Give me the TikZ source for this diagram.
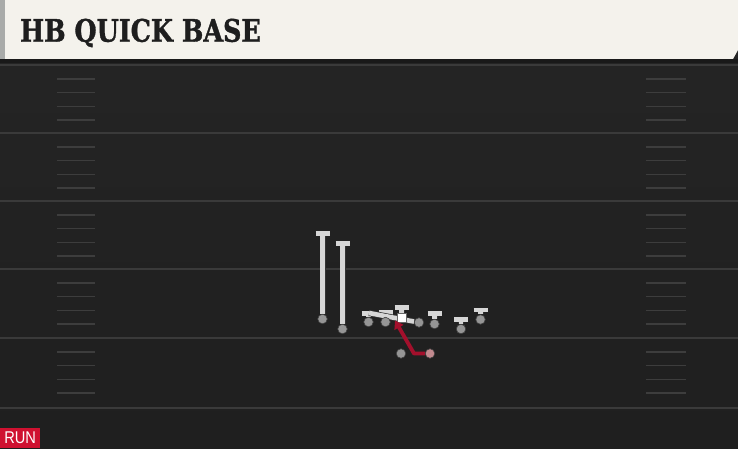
\documentclass[tikz,border=0pt]{standalone}
\usepackage{fontspec}
\newfontfamily\playtitlefont[FakeBold=1.2]{DejaVu Serif Bold}
\newfontfamily\playtagfont{Liberation Sans}
\usepackage{tikz}
\usetikzlibrary{positioning}
\usetikzlibrary{arrows.meta}
\pgfdeclarelayer{playfieldbg}
\pgfdeclarelayer{playroutesbg}
\pgfsetlayers{playfieldbg,playroutesbg,main}
\definecolor{fieldgrey}{HTML}{252525}
\definecolor{fielddark}{HTML}{1F1F1F}
\definecolor{yardgrey}{HTML}{3A3A3A}
\definecolor{hashgrey}{HTML}{3D3D3D}
\definecolor{headcream}{HTML}{F4F2EC}
\definecolor{stripgrey}{HTML}{A9ABA9}
\definecolor{routegrey}{HTML}{D6D6D6}
\definecolor{dotgrey}{HTML}{959595}
\definecolor{runred}{HTML}{A3102C}
\definecolor{tagred}{HTML}{CF1130}
\definecolor{rbpink}{HTML}{C28A8F}
\definecolor{titleink}{HTML}{1E1E1E}

\begin{document}
\begin{tikzpicture}[x=1pt,y=-1pt,
	playerdot/.style={circle, fill=dotgrey, draw=black!75, line width=0.6pt, inner sep=0pt, minimum size=9.5pt},
	route/.style={draw=routegrey, line width=4.6pt, preaction={draw=black!80, line width=6pt}},
	blockbar/.style={-{Bar[width=14pt, line width=4.6pt]}},
	runpath/.style={draw=runred, line width=3.8pt, line join=round, -{Triangle[width=10pt, length=8pt]}},
	yardline/.style={draw=yardgrey, line width=2pt},
	hashline/.style={draw=hashgrey, line width=1.6pt}]
	\useasboundingbox (0,0) rectangle (738,448);
	\begin{pgfonlayer}{playfieldbg}
	\fill[top color=fieldgrey, bottom color=fielddark] (0,0) rectangle (738,448);
	\foreach \ylev in {65,133,201,269,338,408} {\draw[yardline] (0,\ylev) -- (738,\ylev);}
	\foreach \ylev in {65,133,201,269,338} {\foreach \k in {1,...,4} {\draw[hashline] (57,\ylev+13.8*\k) -- (95,\ylev+13.8*\k); \draw[hashline] (646,\ylev+13.8*\k) -- (686,\ylev+13.8*\k);}}
	\fill[headcream] (5,0) -- (738,0) -- (738,50) -- (733,59) -- (5,59) -- cycle; \fill[stripgrey] (0,0) rectangle (5,59); \fill[black!90] (0,59) rectangle (738,63);
	\end{pgfonlayer}
	\node [anchor=west, text=titleink, font=\playtitlefont\fontsize{31}{31}\selectfont, xscale=0.82, transform shape, inner sep=0pt] at (20,33) (playname) {HB QUICK BASE};
	\node [anchor=south west, fill=tagred, minimum width=40pt, minimum height=20pt, inner sep=0pt] at (0,448) (playtype) {};
	\node [text=white, font=\playtagfont\fontsize{17}{17}\selectfont, xscale=0.86, transform shape, inner sep=0pt] at (playtype.center) (playtypetext) {RUN};
	
	% receivers and line
	\node [playerdot] at (322.5,319) (wrL) {}; \node [playerdot] at (342.5,329) (slotL) {};
	\node [playerdot] at (368.5,322) (lt) {}; \node [playerdot] at (385.5,322) (lg) {};
	\node [fill=white, draw=black!60, line width=0.6pt, minimum size=9pt, inner sep=0pt] at (401.5,318) (ctr) {};
	\node [playerdot] at (419,322.5) (rg) {}; \node [playerdot] at (434.5,324) (rt) {};
	\node [playerdot] at (461,329) (te) {}; \node [playerdot] at (480.5,319.5) (wrR) {};
	\node [playerdot] at (401,353.5) (qb) {}; \node [playerdot, fill=rbpink] at (430,353.5) (hb) {};
	
	\coordinate (wrLend) at (322.5,231); \coordinate (slotLend) at (342.5,241); \coordinate (ltend) at (368.5,311); \coordinate (lgend) at (385.5,310);
	\coordinate (ctrend) at (401.5,305); \coordinate (rtend) at (434.5,311); \coordinate (teend) at (461,317); \coordinate (wrRend) at (480.5,307.5);
	\coordinate (ltpull) at (369,313); \coordinate (hbcut) at (414,353.5); \coordinate (handoff) at (395,320.5);
	
	\begin{pgfonlayer}{playroutesbg}
	\draw[route, blockbar] (wrL) -- (wrLend); \draw[route, blockbar] (slotL) -- (slotLend);
	\draw[route, blockbar] (lt) -- (ltend); \draw[route, blockbar] (lg) -- (lgend); \draw[route, blockbar] (ctr) -- (ctrend);
	\draw[route, blockbar] (rt) -- (rtend); \draw[route, blockbar] (te) -- (teend); \draw[route, blockbar] (wrR) -- (wrRend);
	\draw[route] (ltpull) -- (rg);
	\end{pgfonlayer}
	\draw[runpath] (hb) -- (hbcut) -- (handoff);
	
\end{tikzpicture}
\end{document}
